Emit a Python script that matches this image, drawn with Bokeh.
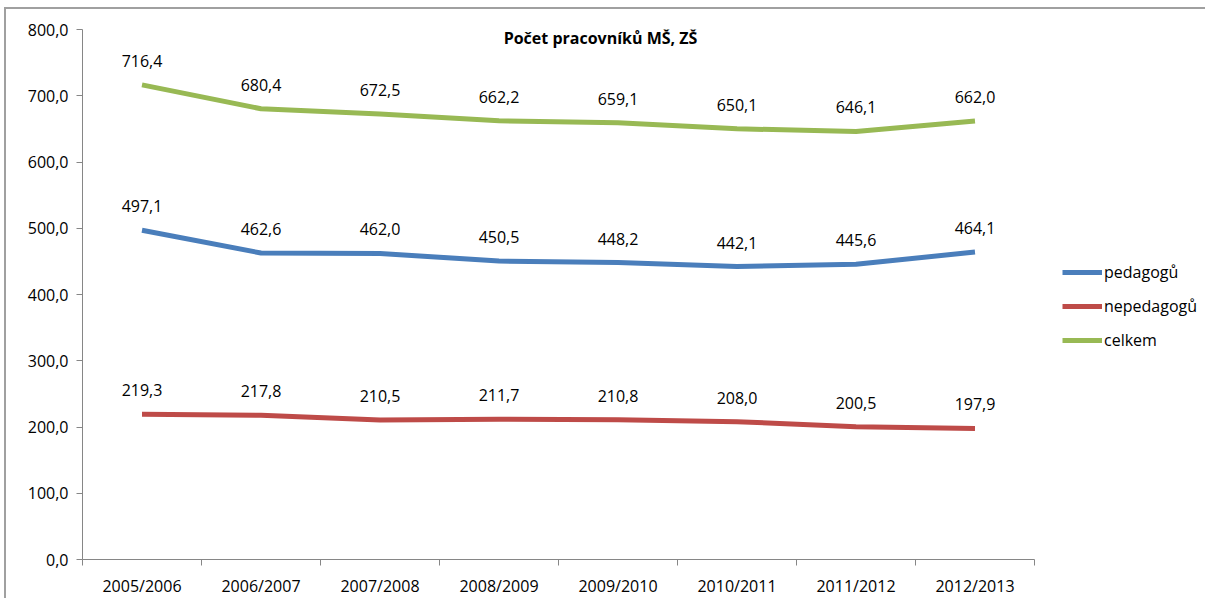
from bokeh.plotting import figure
from bokeh.models import (Range1d, FixedTicker, CustomJSTickFormatter, Legend, LegendItem,
                          Label, ColumnDataSource)
from bokeh.embed import file_html
from bokeh.resources import INLINE
from bokeh.core.properties import value

categories = ["2005/2006", "2006/2007", "2007/2008", "2008/2009",
              "2009/2010", "2010/2011", "2011/2012", "2012/2013"]
pedagogu = [497.1, 462.6, 462.0, 450.5, 448.2, 442.1, 445.6, 464.1]
nepedagogu = [219.3, 217.8, 210.5, 211.7, 210.8, 208.0, 200.5, 197.9]
celkem = [716.4, 680.4, 672.5, 662.2, 659.1, 650.1, 646.1, 662.0]
series_names = ["pedagogů", "nepedagogů", "celkem"]
series_colors = ["#4A7EBB", "#BE4B48", "#98B954"]
title_text = "Počet pracovníků MŠ, ZŠ"
y_ticks = [0, 100, 200, 300, 400, 500, 600, 700, 800]

FONT = "Open Sans"
FS = "16px"
n = len(categories)
xs = [i + 0.5 for i in range(n)]

p = figure(frame_width=952, frame_height=530, output_backend="svg", toolbar_location=None,
           x_range=Range1d(0, n), y_range=Range1d(0, 800),
           min_border_left=76, min_border_right=167, min_border_top=20, min_border_bottom=37)
p.styles = {"border": "2px solid #a0a0a0", "margin-left": "4px", "margin-top": "7px"}
p.outline_line_color = None
p.background_fill_color = "white"
p.border_fill_color = "white"
p.xgrid.visible = False
p.ygrid.visible = False

# x axis
p.xaxis.ticker = FixedTicker(ticks=xs, minor_ticks=list(range(n + 1)))
p.xaxis.major_label_overrides = {x: c for x, c in zip(xs, categories)}
p.xaxis.major_tick_line_color = None
p.xaxis.minor_tick_line_color = "#868686"
p.xaxis.minor_tick_in = 0
p.xaxis.minor_tick_out = 6
p.xaxis.axis_line_color = "#868686"
p.xaxis.major_label_standoff = 9
p.xaxis.major_label_text_font = FONT
p.xaxis.major_label_text_font_size = FS
p.xaxis.major_label_text_color = "#000000"

# y axis
p.yaxis.ticker = FixedTicker(ticks=y_ticks, minor_ticks=[])
p.yaxis.formatter = CustomJSTickFormatter(code="return tick.toFixed(1).replace('.', ',')")
p.yaxis.major_tick_in = 0
p.yaxis.major_tick_out = 6
p.yaxis.major_tick_line_color = "#868686"
p.yaxis.minor_tick_line_color = None
p.yaxis.axis_line_color = "#868686"
p.yaxis.major_label_standoff = 8
p.yaxis.major_label_text_font = FONT
p.yaxis.major_label_text_font_size = FS
p.yaxis.major_label_text_color = "#000000"

items = []
for name, vals, col in zip(series_names, [pedagogu, nepedagogu, celkem], series_colors):
    src = ColumnDataSource(dict(x=xs, y=vals,
                                lab=[("%.1f" % v).replace(".", ",") for v in vals]))
    r = p.line("x", "y", source=src, line_color=col, line_width=5, line_join="round")
    p.text("x", "y", text="lab", source=src, text_align="center", text_baseline="middle",
           y_offset=-24, text_font=value(FONT), text_font_size=FS, text_color="#000000")
    items.append(LegendItem(label=name, renderers=[r]))

legend = Legend(items=items, location=(28, 208), orientation="vertical",
                glyph_width=40, glyph_height=20, spacing=12, label_standoff=2,
                padding=0, margin=0, border_line_color=None, background_fill_alpha=0,
                label_text_font=FONT, label_text_font_size=FS, label_text_color="#000000")
p.add_layout(legend, "right")

title = Label(x=518, y=522, x_units="screen", y_units="screen", text=title_text,
              text_align="center", text_baseline="middle", text_font=FONT,
              text_font_size="16px", text_font_style="bold", text_color="#000000")
p.add_layout(title)

open("out.html", "w").write(file_html(p, INLINE))
